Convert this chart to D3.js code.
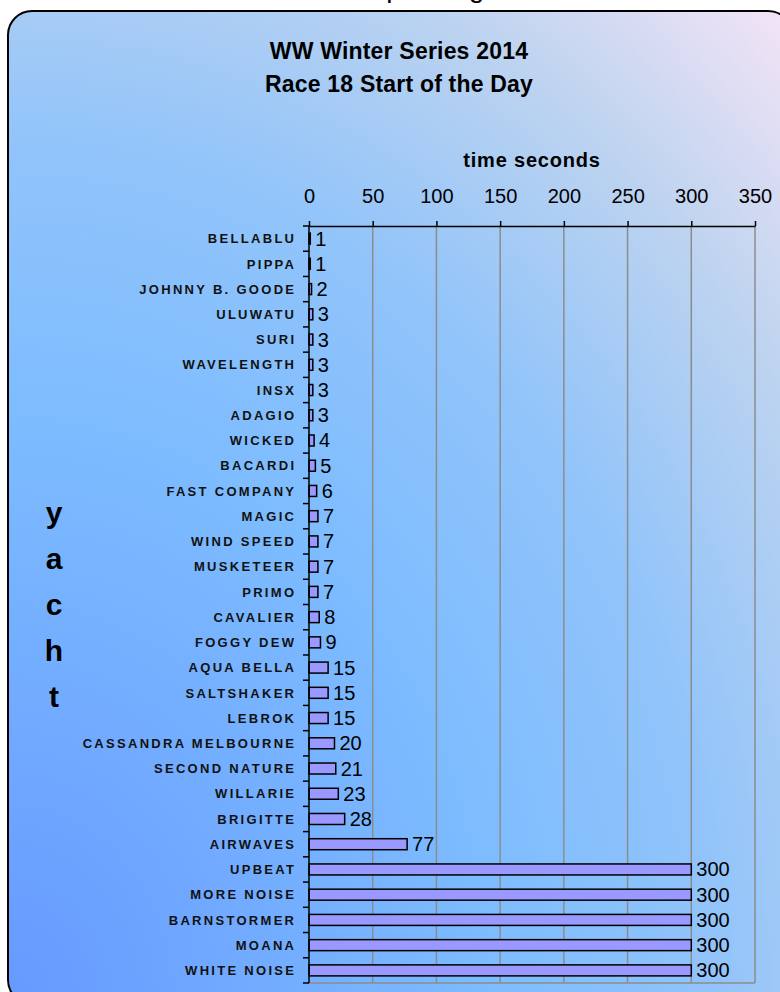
<!DOCTYPE html>
<html>
<head>
<meta charset="utf-8">
<script src="https://cdn.jsdelivr.net/npm/d3@7/dist/d3.min.js"></script>
<style>
  html, body { margin: 0; padding: 0; background: #ffffff; overflow: hidden; }
  svg { display: block; }
  text { font-family: "Liberation Sans", Arial, sans-serif; }
</style>
</head>
<body>
<svg id="chart" width="780" height="992"></svg>
<script>
const titleLines = ["WW Winter Series 2014", "Race 18 Start of the Day"];
const axisTitle = "time seconds";
const yAxisTitle = ["y", "a", "c", "h", "t"];
const categories = ["BELLABLU","PIPPA","JOHNNY B. GOODE","ULUWATU","SURI","WAVELENGTH","INSX","ADAGIO","WICKED","BACARDI","FAST COMPANY","MAGIC","WIND SPEED","MUSKETEER","PRIMO","CAVALIER","FOGGY DEW","AQUA BELLA","SALTSHAKER","LEBROK","CASSANDRA MELBOURNE","SECOND NATURE","WILLARIE","BRIGITTE","AIRWAVES","UPBEAT","MORE NOISE","BARNSTORMER","MOANA","WHITE NOISE"];
const values = [1,1,2,3,3,3,3,3,4,5,6,7,7,7,7,8,9,15,15,15,20,21,23,28,77,300,300,300,300,300];
const tickValues = [0,50,100,150,200,250,300,350];

const svg = d3.select("#chart");
const defs = svg.append("defs");
const grad = defs.append("radialGradient")
  .attr("id", "bg").attr("gradientUnits", "userSpaceOnUse")
  .attr("cx", 0).attr("cy", 0).attr("r", 1).attr("fx", 0).attr("fy", 0)
  .attr("gradientTransform", "translate(8,1004) scale(1150,1400)");
[[0, "#6699ff"], [0.42, "#7dbcff"], [0.62, "#92c4fa"], [0.8, "#bcd3f0"], [1, "#fae6f6"]]
  .forEach(([o, c]) => grad.append("stop").attr("offset", o).attr("stop-color", c));

// clipped heading above the chart frame
svg.append("text").attr("x", 398).attr("y", -3).attr("text-anchor", "middle")
  .style("font-size", "28px").text("Startup timing");

svg.append("rect").attr("x", 8).attr("y", 11).attr("width", 784).attr("height", 993)
  .attr("rx", 24).attr("ry", 24)
  .attr("fill", "url(#bg)").attr("stroke", "#000").attr("stroke-width", 2);

// titles
svg.append("g").selectAll("text").data(titleLines).join("text")
  .attr("x", 399).attr("y", (d, i) => 59 + i * 33)
  .attr("text-anchor", "middle")
  .style("font-size", "23px").style("font-weight", "bold").style("letter-spacing", "0.2px")
  .text(d => d);

const x = d3.scaleLinear().domain([0, 350]).range([309, 755]);
const y = d3.scaleBand().domain(categories).range([226, 983]).padding(0);
const bw = y.bandwidth();
const barH = 11;

// gridlines
svg.append("g").selectAll("line").data(tickValues.slice(1)).join("line")
  .attr("x1", d => x(d)).attr("x2", d => x(d)).attr("y1", 226).attr("y2", 983)
  .attr("stroke", "#8c8c8c").attr("stroke-width", 1.5);
svg.append("line").attr("x1", x(0)).attr("x2", x(350)).attr("y1", 983).attr("y2", 983)
  .attr("stroke", "#8c8c8c").attr("stroke-width", 1.5);

// bars
svg.append("g").selectAll("rect").data(values).join("rect")
  .attr("x", x(0))
  .attr("y", (d, i) => y(categories[i]) + bw / 2 - barH / 2)
  .attr("width", d => x(d) - x(0))
  .attr("height", barH)
  .attr("fill", "#9999ff").attr("stroke", "#000").attr("stroke-width", 1.5);

// value labels
svg.append("g").selectAll("text").data(values).join("text")
  .attr("x", d => x(d) + 5)
  .attr("y", (d, i) => y(categories[i]) + bw / 2 + 7)
  .style("font-size", "20px").text(d => d);

// top axis
const xAxis = d3.axisTop(x).tickValues(tickValues).tickSize(5).tickSizeOuter(0).tickPadding(18);
const gx = svg.append("g").attr("transform", "translate(0,226)").call(xAxis);
gx.select(".domain").attr("stroke", "#000").attr("stroke-width", 1.5);
gx.selectAll(".tick line").attr("stroke", "#000").attr("stroke-width", 1.5);
gx.selectAll(".tick text").style("font-size", "20px").style("font-family", "'Liberation Sans', Arial, sans-serif").attr("fill", "#000");

svg.append("text").attr("x", 532).attr("y", 167).attr("text-anchor", "middle")
  .style("font-size", "20px").style("font-weight", "bold").style("letter-spacing", "0.8px")
  .text(axisTitle);

// left axis
const yAxis = d3.axisLeft(y).tickSize(0).tickPadding(15);
const gy = svg.append("g").attr("transform", "translate(309,0)").call(yAxis);
gy.select(".domain").remove();
gy.selectAll(".tick text")
  .style("font-size", "13px").style("font-weight", "bold").style("letter-spacing", "2.3px")
  .style("font-family", "'Liberation Sans', Arial, sans-serif").attr("fill", "#111")
  .attr("dx", "2.3px").attr("dy", "0.36em");
const boundaries = categories.map(c => y(c)).concat([y.range()[1]]);
svg.append("g").selectAll("line").data(boundaries).join("line")
  .attr("x1", 303).attr("x2", 309).attr("y1", d => d).attr("y2", d => d)
  .attr("stroke", "#000").attr("stroke-width", 1.5);
svg.append("line").attr("x1", 309).attr("x2", 309).attr("y1", 226).attr("y2", 983)
  .attr("stroke", "#000").attr("stroke-width", 1.5);

// vertical axis title
const yc = (226 + 983) / 2;
svg.append("g").selectAll("text").data(yAxisTitle).join("text")
  .attr("x", 54).attr("y", (d, i) => yc + (i - 2) * 46 + 10)
  .attr("text-anchor", "middle")
  .style("font-size", "30px").style("font-weight", "bold")
  .text(d => d);
</script>
</body>
</html>
